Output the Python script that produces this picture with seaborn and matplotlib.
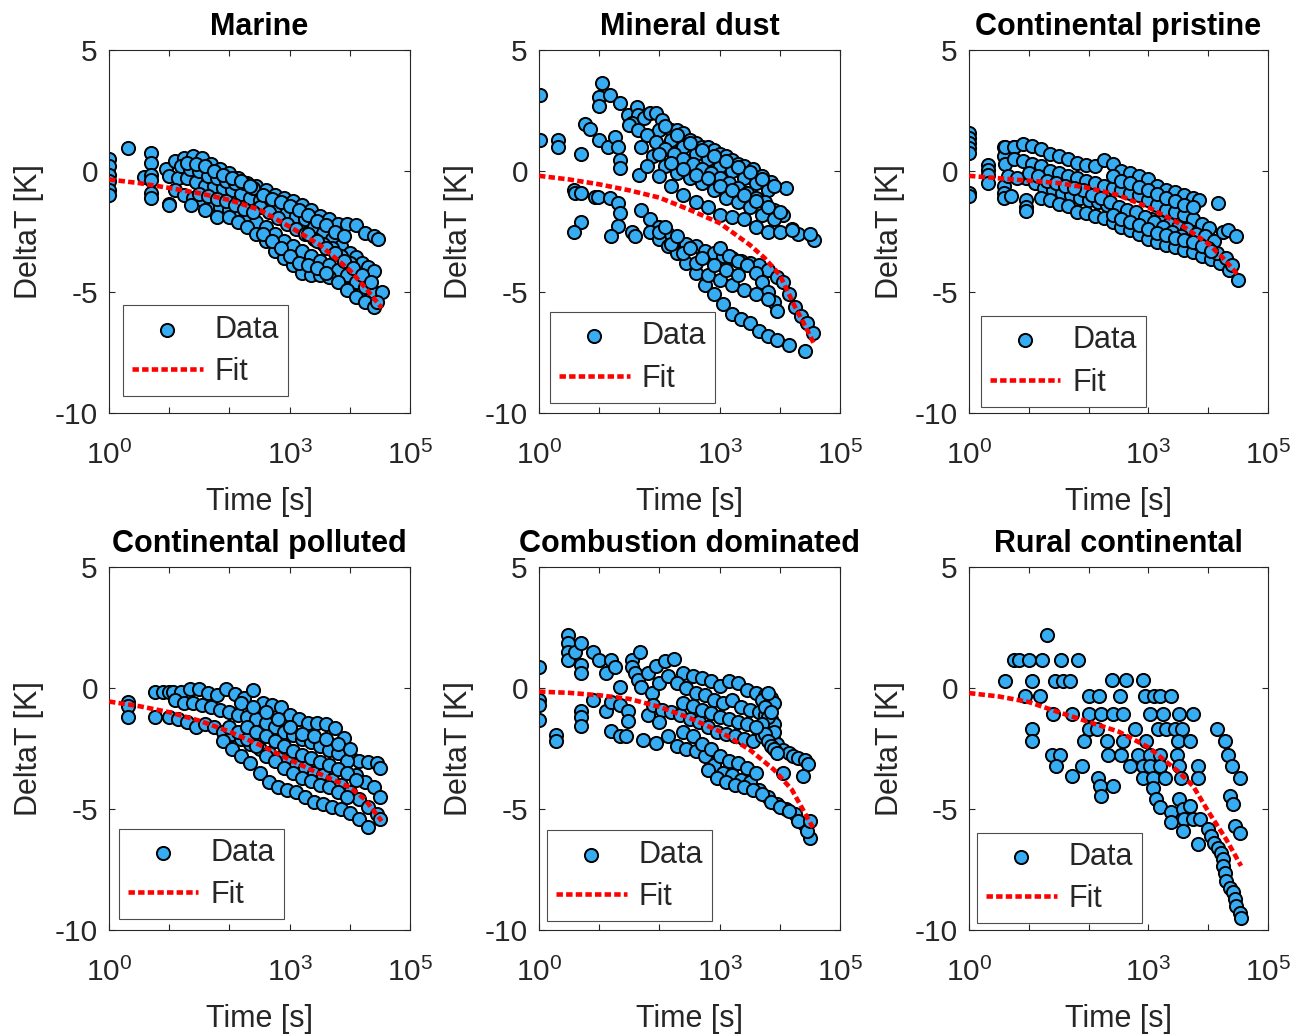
import matplotlib
matplotlib.use("Agg")
import matplotlib.pyplot as plt  # noqa: E402
import numpy as np  # noqa: E402
import seaborn as sns  # noqa: E402

sns.set_theme(style="ticks")
plt.rcParams["font.family"] = ["Liberation Sans", "DejaVu Sans"]
plt.rcParams["mathtext.default"] = "regular"

# ---- data (time given as log10 of seconds, DeltaT in K) ----
marine_logt = [
    0, 0, 0, 0, 0, 0, 0.32, 0.58, 0.7, 0.7, 0.7, 0.7, 0.7, 0.7, 1.0,
    0.95, 1.1, 1.25, 1.4, 1.55, 1.7, 1.85, 2.0, 2.15, 2.3, 2.45, 2.6, 2.75, 2.9, 3.05, 3.2, 3.35, 3.5, 3.65, 3.8, 3.95, 4.1, 4.25, 4.4, 4.47,
    1.0, 1.15, 1.3, 1.45, 1.6, 1.75, 1.9, 2.05, 2.2, 2.35, 2.5, 2.65, 2.8, 2.95, 3.1, 3.25, 3.4, 3.55, 3.7, 3.85, 4.0, 4.1, 4.2, 4.3, 4.4,
    1.1, 1.25, 1.4, 1.55, 1.7, 1.85, 2.0, 2.15, 2.3, 2.45, 2.6, 2.75, 2.9, 3.05, 3.2, 3.35, 3.5, 3.65, 3.8, 3.95, 4.1, 4.25, 4.4, 4.53,
    1.0, 1.37, 1.6, 1.8, 2.0, 2.15, 2.3, 2.45, 2.6, 2.75, 2.9, 3.05, 3.2, 3.35, 3.5, 3.65, 3.8, 3.95, 4.1, 4.25, 4.4, 4.45,
    2.5, 2.65, 2.8, 2.95, 3.1, 3.25, 3.4, 3.55, 3.7, 3.85, 4.0,
    1.2, 1.35, 1.5, 1.65, 1.8, 1.95, 2.1, 2.25, 2.4,
    2.55, 2.7, 2.85, 3.0, 3.15, 3.3, 3.45, 3.6,
    1.5, 1.65, 1.8, 1.95, 2.1, 2.25, 2.4,
    2.55, 2.7, 2.85, 3.0, 3.15, 3.3, 3.45, 3.6, 3.75, 3.9,
    1.3, 1.45, 1.6, 1.75, 1.9, 2.05, 2.2, 2.35,
    3.3, 3.45, 3.6, 3.75, 3.9, 4.05, 4.2, 4.35,
]
marine_dT = [
    0.5, 0.2, -0.15, -0.4, -0.8, -1.0, 0.97, -0.23, 0.76, 0.32, -0.16, -0.36, -0.91, -1.1, -1.37,
    0.1, 0.4, 0.55, 0.6, 0.55, 0.3, 0.1, -0.1, -0.3, -0.5, -0.6, -0.8, -1.0, -1.1, -1.25, -1.4, -1.6, -1.85, -2.0, -2.2, -2.2, -2.25, -2.55, -2.7, -2.8,
    -0.2, -0.3, -0.3, -0.45, -0.6, -0.6, -0.7, -0.8, -0.95, -1.1, -1.2, -1.35, -1.5, -1.7, -1.85, -2.0, -2.3, -2.55, -2.8, -3.1, -3.4, -3.55, -3.8, -3.95, -4.15,
    -0.8, -1.0, -1.1, -1.2, -1.35, -1.5, -1.6, -1.7, -1.9, -2.1, -2.3, -2.6, -2.9, -3.1, -3.3, -3.5, -3.7, -3.9, -4.1, -4.3, -4.6, -4.8, -5.0, -5.0,
    -1.4, -1.4, -1.6, -1.9, -1.9, -2.1, -2.3, -2.6, -2.9, -3.3, -3.6, -3.9, -4.2, -4.3, -4.3, -4.4, -4.6, -4.9, -5.2, -5.4, -5.6, -5.4,
    -1.5, -1.7, -1.95, -2.2, -2.4, -2.6, -2.8, -3.0, -3.2, -3.5, -3.8,
    0.2, 0.1, 0.0, -0.2, -0.3, -0.4, -0.5, -0.5, -0.7,
    -2.6, -2.9, -3.2, -3.5, -3.8, -3.9, -4.0, -4.2,
    -0.95, -1.05, -1.15, -1.25, -1.4, -1.55, -1.7,
    -1.0, -1.15, -1.3, -1.45, -1.6, -1.8, -2.05, -2.25, -2.5, -2.7,
    0.35, 0.3, 0.2, 0.0, -0.15, -0.3, -0.4, -0.6,
    -2.6, -2.9, -3.2, -3.4, -3.7, -4.0, -4.3, -4.6,
]
marine_fit_logt = [0, 0.5, 1, 1.5, 2, 2.5, 3, 3.5, 4, 4.25, 4.53]
marine_fit_dT = [-0.35, -0.5, -0.7, -0.92, -1.2, -1.6, -2.3, -3.05, -4.1, -4.8, -5.66]

dust_logt = [
    0.01, 0.01, 0.32, 0.32, 0.70, 0.58, 0.59, 0.70, 0.70, 0.58, 0.76, 0.85, 0.93, 0.98, 1.0, 1.04, 1.0, 1.0,
    1.18, 1.15, 1.26, 1.31, 1.34, 1.35, 1.34, 1.48, 1.62, 1.65, 1.54, 1.18, 1.31, 1.34, 1.31, 1.2, 1.54, 1.6, 1.66,
    1.75, 1.85, 1.95, 2.05, 2.2, 2.3, 2.4, 2.5, 2.6, 2.7, 2.8, 2.9, 3.0, 3.1, 3.2, 3.3, 3.4, 3.55, 3.7, 3.85, 4.1,
    2.0, 2.2, 2.4, 2.6, 2.8, 3.0, 3.2, 3.4, 3.6, 3.8,
    1.5, 1.65, 1.8, 1.95, 2.1, 2.25, 2.4, 2.55, 2.7, 2.85, 3.0, 3.15, 3.3, 3.45, 3.6, 3.75, 3.9, 4.05, 4.3, 4.56,
    1.7, 1.9, 2.1, 2.3, 2.5, 2.7, 2.9, 3.1, 3.3, 3.5, 3.7, 3.9, 4.2, 4.5,
    1.8, 2.0, 2.2, 2.4, 2.6, 2.8, 3.0, 3.2, 3.4, 3.6, 3.8, 4.0, 4.2,
    1.7, 1.85, 2.0, 2.15, 2.3, 2.45, 2.6, 2.75, 2.9, 3.05, 3.2, 3.35, 3.5, 3.65, 3.8, 3.95, 4.05, 4.15, 4.25, 4.35, 4.45, 4.55,
    3.0, 3.15, 3.3, 3.45, 3.6, 3.7, 3.8, 3.9, 3.95,
    1.85, 2.0, 2.15, 2.3, 2.45, 2.6, 2.75, 2.9, 3.05, 3.2, 3.35, 3.5, 3.65, 3.8, 3.95, 4.15, 4.42,
    2.0, 2.2, 2.4, 2.6, 2.8, 3.0, 3.2, 3.4, 3.6, 3.8,
    2.1, 2.3, 2.5, 2.7, 2.9, 3.1, 3.3, 3.5, 3.7, 3.9,
    2.0, 2.2, 2.4, 2.6, 2.8, 3.0, 3.2, 3.4, 3.6, 3.8, 4.0,
    2.1, 2.3, 2.5, 2.7, 2.9, 3.1, 3.3,
]
dust_dT = [
    3.14, 1.29, 1.29, 1.0, 0.71, -0.78, -0.9, -0.89, -2.12, -2.54, 1.95, 1.73, -1.08, -1.08, 1.29, 3.62, 3.07, 2.69,
    3.14, 1.0, 1.42, 1.0, 0.46, 0.12, 2.8, 2.32, 2.66, 2.32, 1.97, -1.12, -1.33, -1.74, -2.29, -2.7, -2.5, -2.7, -0.16,
    2.2, 2.4, 2.4, 2.1, 1.7, 1.7, 1.55, 1.3, 1.15, 1.0, 1.0, 0.85, 0.7, 0.6, 0.45, 0.3, 0.2, 0.1, -0.2, -0.45, -0.7,
    1.7, 1.3, 1.0, 0.7, 0.5, 0.2, 0.0, -0.3, -0.5, -0.8,
    1.9, 1.7, 1.5, 1.2, 0.9, 0.7, 0.5, 0.3, 0.1, -0.1, -0.3, -0.5, -0.7, -0.9, -1.1, -1.3, -1.6, -1.8, -2.6, -2.84,
    1.0, 0.6, 0.2, -0.1, -0.3, -0.5, -0.8, -1.1, -1.3, -1.5, -1.8, -2.0, -2.4, -2.6,
    0.2, -0.2, -0.6, -1.0, -1.3, -1.5, -1.8, -1.9, -2.0, -2.3, -2.5, -2.5, -2.45,
    -1.6, -2.0, -2.3, -2.6, -2.8, -3.0, -3.1, -3.3, -3.4, -3.5, -3.6, -3.7, -3.8, -3.9, -4.1, -4.4, -4.6, -5.1, -5.6, -6.0, -6.3, -6.7,
    -3.2, -3.5, -3.7, -3.9, -4.2, -4.6, -5.0, -5.4, -5.8,
    -2.5, -2.8, -3.1, -3.4, -3.8, -4.2, -4.7, -5.1, -5.5, -5.9, -6.1, -6.3, -6.6, -6.8, -7.0, -7.2, -7.45,
    -2.5, -3.0, -3.4, -3.8, -4.3, -4.5, -4.7, -4.9, -5.1, -5.3,
    1.85, 1.5, 1.15, 0.85, 0.6, 0.4, 0.15, -0.05, -0.35, -0.6,
    0.7, 0.35, 0.1, -0.15, -0.3, -0.6, -0.8, -1.0, -1.25, -1.5, -1.7,
    -2.3, -2.7, -3.2, -3.6, -3.9, -4.1, -4.3,
]
dust_fit_logt = [0, 0.5, 1, 1.5, 2, 2.5, 3, 3.5, 3.75, 4, 4.25, 4.4, 4.56]
dust_fit_dT = [-0.2, -0.35, -0.55, -0.8, -1.1, -1.6, -2.15, -3.05, -3.6, -4.3, -5.6, -6.3, -7.1]

pristine_logt = [
    0, 0, 0, 0, 0, 0, 0, 0.32, 0.32, 0.32, 0.32, 0.58, 0.58, 0.58, 0.58, 0.58, 0.7, 0.96, 0.96, 0.96, 4.16, 0.76,
    0.6, 0.75, 0.9, 1.05, 1.2, 1.35, 1.5, 1.65, 1.8, 1.95, 2.1, 2.25, 2.4, 2.55, 2.7, 2.85, 3.0, 3.15, 3.3, 3.45, 3.6, 3.75, 3.85,
    0.6, 0.75, 0.9, 1.05, 1.2, 1.35, 1.5, 1.65, 1.8, 1.95, 2.1, 2.25, 2.4, 2.55, 2.7, 2.85, 3.0, 3.15, 3.3, 3.45, 3.6, 3.75, 3.9, 4.02,
    0.95, 1.1, 1.25, 1.4, 1.55, 1.7, 1.85, 2.0, 2.15, 2.3, 2.45, 2.6, 2.75, 2.9, 3.05, 3.2, 3.35, 3.5, 3.65, 3.8, 3.95, 4.1, 4.25, 4.33, 4.47,
    1.2, 1.35, 1.5, 1.65, 1.8, 1.95, 2.1, 2.25, 2.4, 2.55, 2.7, 2.85, 3.0, 3.15, 3.3, 3.45, 3.6, 3.75, 3.9, 4.05, 4.2, 4.35, 4.5,
    1.9, 2.05, 2.2, 2.35, 2.5, 2.65, 2.8, 2.95, 3.1, 3.25, 3.4, 3.55, 3.7, 3.85, 4.0, 4.15, 4.3, 4.4,
    2.4, 2.55, 2.7, 2.85, 3.0, 3.15, 3.3, 3.45, 3.6, 3.75,
    2.4, 2.55, 2.7, 2.85, 3.0, 3.15, 3.3, 3.45, 3.6, 3.75, 3.9, 4.05,
    0.65, 0.8, 1.0, 1.15, 1.3, 1.45, 1.6, 1.75,
]
pristine_dT = [
    1.56, 1.36, 1.15, 0.94, 0.74, -0.91, -1.05, 0.25, 0.05, -0.16, -0.5, 1.0, 0.6, -0.64, -0.9, -1.1, -1.05, -1.2, -1.47, -1.67, -1.33, 1.0,
    1.0, 1.0, 1.1, 1.05, 0.9, 0.7, 0.6, 0.5, 0.35, 0.25, 0.2, 0.45, 0.3, 0.0, -0.1, -0.2, -0.35, -0.6, -0.8, -0.85, -1.0, -1.1, -1.2,
    0.3, 0.5, 0.4, 0.3, 0.2, 0.0, -0.1, -0.2, -0.3, -0.4, -0.5, -0.6, -0.7, -0.8, -0.9, -1.0, -1.2, -1.4, -1.6, -1.7, -1.8, -2.0, -2.2, -2.36,
    -0.3, -0.5, -0.7, -0.8, -0.9, -1.0, -1.1, -1.2, -1.3, -1.4, -1.6, -1.7, -1.8, -1.9, -2.0, -2.1, -2.2, -2.3, -2.4, -2.6, -2.7, -2.9, -2.5, -2.43, -2.7,
    -1.1, -1.2, -1.35, -1.45, -1.7, -1.75, -1.85, -1.95, -2.1, -2.3, -2.45, -2.6, -2.8, -2.95, -3.05, -3.15, -3.25, -3.35, -3.5, -3.65, -3.8, -4.1, -4.5,
    -0.8, -1.0, -1.1, -1.3, -1.5, -1.6, -1.7, -1.9, -2.1, -2.3, -2.5, -2.7, -2.9, -3.0, -3.2, -3.4, -3.6, -3.9,
    -0.2, -0.4, -0.5, -0.65, -0.8, -0.95, -1.1, -1.25, -1.4, -1.5,
    -1.8, -2.0, -2.1, -2.25, -2.4, -2.55, -2.65, -2.75, -2.85, -2.95, -3.1, -3.3,
    -0.2, -0.3, -0.1, -0.2, -0.4, -0.5, -0.6, -0.7,
]
pristine_fit_logt = [0, 0.5, 1, 1.5, 2, 2.5, 3, 3.5, 4, 4.25, 4.5]
pristine_fit_dT = [-0.2, -0.3, -0.4, -0.5, -0.7, -1.0, -1.5, -2.15, -3.0, -3.6, -4.3]

polluted_logt = [
    0.32, 0.32, 0.32, 0.76, 0.76, 0.9, 1.0, 1.06,
    1.2, 1.35, 1.5, 1.65, 1.8, 1.95, 2.1, 2.25, 2.4, 2.55, 2.7, 2.85, 3.0, 3.15, 3.3, 3.45, 3.6, 3.75, 3.9, 4.0, 4.15, 4.3, 4.45, 4.5,
    1.1, 1.25, 1.4, 1.55, 1.7, 1.85, 2.0, 2.15, 2.3, 2.45, 2.6, 2.75, 2.9, 3.05, 3.2, 3.35, 3.5, 3.65, 3.8, 3.95, 4.1, 4.25, 4.4, 4.5,
    1.0, 1.15, 1.3, 1.45, 1.6, 1.75, 1.9, 2.05, 2.2, 2.35, 2.5, 2.65, 2.8, 2.95, 3.1, 3.25, 3.4, 3.55, 3.7, 3.85, 4.0, 4.15, 4.3, 4.45, 4.5,
    1.9, 2.05, 2.2, 2.35, 2.5, 2.65, 2.8, 2.95, 3.1, 3.25, 3.4, 3.55, 3.7, 3.85, 4.0, 4.15, 4.3,
    2.0, 2.15, 2.3, 2.45, 2.6, 2.75, 2.9, 3.05, 3.2, 3.35, 3.5, 3.65, 3.8, 3.95,
    2.2, 2.4, 2.6, 2.8, 3.0, 3.2, 3.4, 3.6, 3.8, 4.0,
    2.3, 2.45, 2.6, 2.75, 2.9, 3.05, 3.2, 3.35, 3.5, 3.65, 3.8, 3.95, 4.1,
]
polluted_dT = [
    -0.56, -0.76, -1.18, -0.15, -1.18, -0.15, -0.15, -0.15,
    -0.15, -0.05, -0.05, -0.2, -0.3, -0.05, -0.25, -0.4, -0.1, -0.6, -0.7, -0.8, -1.1, -1.3, -1.45, -1.45, -1.5, -1.65, -2.05, -2.8, -3.0, -3.05, -3.1, -3.3,
    -0.5, -0.6, -0.6, -0.7, -0.8, -0.9, -1.0, -1.1, -1.2, -1.3, -1.45, -1.6, -1.8, -1.95, -2.1, -2.25, -2.4, -2.55, -2.7, -3.0, -3.6, -3.9, -4.1, -4.5,
    -1.2, -1.3, -1.4, -1.6, -1.5, -1.6, -1.8, -1.9, -2.1, -2.3, -2.5, -2.7, -2.9, -3.0, -3.2, -3.3, -3.5, -3.6, -3.8, -4.0, -4.3, -4.6, -4.9, -5.2, -5.4,
    -2.2, -2.5, -2.8, -3.1, -3.5, -3.9, -4.1, -4.2, -4.3, -4.5, -4.7, -4.8, -4.9, -5.0, -5.15, -5.4, -5.75,
    -1.6, -1.8, -2.1, -2.4, -2.8, -3.0, -3.3, -3.5, -3.7, -3.85, -4.0, -4.1, -4.3, -4.5,
    -0.6, -0.8, -1.0, -1.3, -1.6, -1.9, -2.0, -2.1, -2.3, -2.5,
    -1.6, -1.8, -2.0, -2.2, -2.4, -2.6, -2.75, -2.9, -3.05, -3.2, -3.35, -3.5, -3.8,
]
polluted_fit_logt = [0, 0.5, 1, 1.5, 2, 2.5, 3, 3.5, 4, 4.25, 4.53]
polluted_fit_dT = [-0.56, -0.75, -1.0, -1.35, -1.8, -2.35, -2.96, -3.55, -4.1, -4.6, -5.5]

combustion_logt = [
    0, 0, 0, 0, 0.29, 0.29, 0.48, 0.48, 0.48, 0.48, 0.59, 0.7, 0.7, 0.7, 0.7, 0.7, 0.7, 0.9, 0.9, 1.0, 1.12, 1.12,
    1.2, 1.2, 1.2, 1.26, 1.34, 1.34, 1.34, 1.45, 1.48, 1.48, 1.54, 1.55, 1.6, 1.65, 1.7, 1.67, 1.73, 1.81, 1.81, 1.87, 1.95,
    1.95, 2.1, 2.25, 2.4, 2.55, 2.7, 2.85, 3.0, 3.15, 3.3, 3.45, 3.6, 3.75, 3.85, 3.9,
    2.0, 2.15, 2.3, 2.45, 2.6, 2.75, 2.9, 3.05, 3.2, 3.35, 3.5, 3.65, 3.75, 3.85, 3.9,
    1.9, 2.05, 2.2, 2.35, 2.5, 2.65, 2.8, 2.95, 3.1, 3.25, 3.4, 3.55, 3.7, 3.8, 3.9, 3.95,
    2.0, 2.15, 2.3, 2.45, 2.6, 2.75, 2.9, 3.05, 3.2, 3.35, 3.5, 3.65, 3.8, 3.95, 4.1, 4.25, 4.4, 4.5,
    2.8, 2.95, 3.1, 3.25, 3.4, 3.55, 3.7, 3.85, 4.0, 4.15, 4.3, 4.45,
    3.95, 4.06, 4.15, 4.22, 4.3, 4.42, 4.47, 4.39, 4.06,
    2.4, 2.55, 2.7, 2.85, 3.0, 3.15, 3.3, 3.45, 3.6,
    3.7, 3.75, 3.8, 3.85, 3.9, 3.7, 3.75, 3.8, 3.85, 3.9, 3.95, 3.8,
    4.5,
    2.4, 2.55, 2.7, 2.85, 3.0, 3.15, 3.3, 3.45, 3.6,
]
combustion_dT = [
    0.88, -0.49, -0.7, -1.31, -1.93, -2.2, 2.19, 1.84, 1.5, 1.16, 1.5, 1.84, 0.95, 0.61, -0.97, -1.18, -1.59, 1.5, -0.49, 1.16, 0.61, -0.97,
    1.16, -0.56, -1.79, 0.88, 0.05, -0.7, -2.0, -2.0, -0.97, -1.38, 1.16, 0.88, 0.61, 0.33, 0.05, 1.5, -2.14, 0.61, -1.1, -0.22, -2.27,
    0.9, 1.1, 1.2, 0.6, 0.5, 0.4, 0.3, 0.1, 0.3, 0.2, -0.1, -0.2, -0.3, -0.4, -0.6,
    0.2, 0.5, 0.2, 0.0, -0.2, -0.3, -0.5, -0.6, -0.5, -0.8, -0.9, -1.0, -1.1, -1.3, -1.5,
    -0.7, -0.9, -1.0, -1.1, -1.3, -1.4, -1.6, -1.8, -1.9, -2.0, -2.1, -2.2, -2.0, -1.9, -2.2, -2.6,
    -1.4, -2.0, -2.4, -2.5, -2.6, -2.8, -3.2, -3.5, -3.6, -3.8, -3.9, -4.2, -4.5, -4.8, -5.0, -5.2, -5.6, -6.2,
    -3.4, -3.7, -3.9, -4.0, -4.1, -4.2, -4.4, -4.7, -4.9, -5.1, -5.5, -5.9,
    -2.3, -2.55, -2.7, -2.82, -2.9, -2.96, -3.16, -3.65, -3.5,
    -1.8, -2.0, -2.3, -2.5, -2.8, -3.0, -3.1, -3.3, -3.5,
    -0.5, -0.8, -1.2, -1.0, -1.8, -1.5, -1.9, -2.2, -2.4, -2.5, -2.7, -0.2,
    -5.5,
    -0.6, -0.75, -0.9, -1.05, -1.2, -1.3, -1.4, -1.5, -1.6,
]
combustion_fit_logt = [0, 0.5, 1, 1.5, 2, 2.5, 3, 3.5, 3.9, 4.2, 4.55]
combustion_fit_dT = [-0.15, -0.2, -0.3, -0.45, -0.78, -1.24, -1.79, -2.55, -3.37, -4.2, -5.77]

rural_logt = [
    0.60, 0.75, 0.84, 1.0, 1.22, 1.54, 1.83, 1.31, 1.05, 1.43,
    1.58, 1.69, 0.94, 1.18, 1.4, 1.72, 1.06, 1.06, 1.39, 1.52,
    1.46, 1.72, 1.89, 1.93, 2.0, 2.18, 2.52, 2.39, 2.63, 2.91,
    2.0, 2.2, 2.4, 2.57, 2.0, 2.14, 2.77, 2.3, 2.57, 2.96,
    2.33, 2.55, 2.83, 2.69, 2.16, 2.19, 2.21, 2.4, 2.94, 3.02,
    3.1, 3.2, 3.38, 3.16, 3.3, 3.24, 3.52, 3.75, 3.44, 3.57,
    3.5, 3.69, 3.02, 3.19, 3.47, 2.91, 3.02, 3.19, 3.52, 3.83,
    2.91, 3.08, 3.28, 3.55, 3.83, 3.08, 3.13, 3.19, 3.38, 3.38,
    3.52, 3.58, 3.6, 3.58, 3.69, 3.75, 3.83, 3.86, 4.0, 4.05,
    4.1, 4.16, 4.22, 4.25, 4.25, 4.28, 4.3, 4.36, 4.42, 4.45,
    4.47, 4.53, 4.55, 4.14, 4.28, 4.33, 4.39, 4.53, 4.36, 4.42,
    4.45, 4.53,
]
rural_dT = [
    0.29, 1.15, 1.15, 1.15, 1.15, 1.15, 1.15, 2.19, 0.29, 0.29,
    0.29, 0.29, -0.35, -0.35, -1.08, -1.08, -1.7, -2.21, -2.76, -2.76,
    -3.24, -3.65, -3.24, -2.21, -0.35, -0.35, -0.35, 0.34, 0.34, 0.34,
    -1.08, -1.08, -1.08, -1.08, -1.7, -1.7, -1.7, -2.21, -2.21, -2.21,
    -2.76, -2.76, -2.76, -3.24, -3.72, -4.06, -4.47, -4.06, -0.35, -1.08,
    -0.35, -0.35, -0.35, -1.7, -1.7, -1.08, -1.08, -1.08, -1.7, -1.7,
    -2.21, -2.21, -2.76, -2.76, -2.76, -3.24, -3.24, -3.24, -3.24, -3.24,
    -3.72, -3.72, -3.72, -3.72, -3.72, -4.15, -4.58, -4.91, -5.12, -5.53,
    -4.6, -5.0, -5.43, -5.91, -4.88, -5.43, -6.46, -5.43, -5.84, -6.12,
    -6.4, -6.6, -6.8, -7.08, -7.35, -7.63, -7.97, -8.25, -8.45, -8.73,
    -9.0, -9.3, -9.5, -1.7, -2.21, -2.76, -3.24, -3.72, -4.47, -4.8,
    -5.7, -6.0,
]
rural_fit_logt = [0, 0.5, 1, 1.5, 2, 2.5, 3, 3.5, 3.75, 4.0, 4.3, 4.55]
rural_fit_dT = [-0.21, -0.35, -0.58, -1.0, -1.4, -1.8, -2.45, -3.45, -4.06, -5.1, -6.25, -7.35]

titles = ["Marine", "Mineral dust", "Continental pristine",
          "Continental polluted", "Combustion dominated", "Rural continental"]
series = [
    (marine_logt, marine_dT, marine_fit_logt, marine_fit_dT),
    (dust_logt, dust_dT, dust_fit_logt, dust_fit_dT),
    (pristine_logt, pristine_dT, pristine_fit_logt, pristine_fit_dT),
    (polluted_logt, polluted_dT, polluted_fit_logt, polluted_fit_dT),
    (combustion_logt, combustion_dT, combustion_fit_logt, combustion_fit_dT),
    (rural_logt, rural_dT, rural_fit_logt, rural_fit_dT),
]

# ---- layout (pixels of the 1296x1034 canvas) ----
W, H = 1296, 1034
col_left = [109, 539, 969]
col_width = [301, 301, 299]
row_top = [50, 567]
ax_h = 363
legend_anchor = [(0.047, 0.047), (0.037, 0.028), (0.040, 0.017),
                 (0.033, 0.030), (0.027, 0.025), (0.027, 0.019)]

FACE = "#36ACF2"
INK = "#262626"
FS = 22

fig = plt.figure(figsize=(W / 100, H / 100), dpi=100)

for i, title in enumerate(titles):
    r, c = divmod(i, 3)
    rect = [col_left[c] / W, 1 - (row_top[r] + ax_h) / H, col_width[c] / W, ax_h / H]
    ax = fig.add_axes(rect)
    logt, dT, fit_logt, fit_dT = series[i]

    sns.scatterplot(x=10 ** np.asarray(logt, dtype=float), y=dT, ax=ax, s=90,
                    color=FACE, edgecolor="black", linewidth=1.4, label="Data",
                    zorder=2)
    sns.lineplot(x=10 ** np.asarray(fit_logt, dtype=float), y=fit_dT, ax=ax,
                 color="red", linewidth=3.3, linestyle=(0, (1.4, 0.7)),
                 estimator=None, sort=False, label="Fit", zorder=3)

    ax.set_xscale("log")
    ax.set_xlim(1, 1e5)
    ax.set_ylim(-10, 5)
    ax.minorticks_off()
    ax.set_xticks([1, 10, 100, 1e3, 1e4, 1e5])
    ax.set_xticklabels(["$10^0$", "", "", "$10^3$", "", "$10^5$"])
    ax.set_yticks([-10, -5, 0, 5])
    ax.set_yticklabels(["-10", "-5", "0", "5"])
    ax.tick_params(direction="in", length=4, width=0.8, top=True, right=True,
                   labelsize=21.5, labelcolor=INK, color=INK)
    ax.tick_params(axis="x", pad=20)
    ax.tick_params(axis="y", pad=8)
    for sp in ax.spines.values():
        sp.set_color(INK)
        sp.set_linewidth(0.8)

    ax.set_title(title, fontsize=FS, fontweight="bold", color="black", pad=11)
    ax.set_xlabel("Time [s]", fontsize=FS, color=INK)
    ax.set_ylabel("DeltaT [K]", fontsize=FS, color=INK)
    ax.xaxis.set_label_coords(0.5, -0.205)
    ax.yaxis.set_label_coords(-0.215, 0.5)

    leg = ax.legend(loc="lower left", bbox_to_anchor=legend_anchor[i],
                    borderaxespad=0, fontsize=FS, handlelength=2.3,
                    handletextpad=0.4, labelspacing=0.4, borderpad=0.3,
                    frameon=True, fancybox=False, framealpha=1,
                    edgecolor="#4d4d4d")
    leg.get_frame().set_linewidth(0.8)

fig.savefig("out.png", dpi=100)
